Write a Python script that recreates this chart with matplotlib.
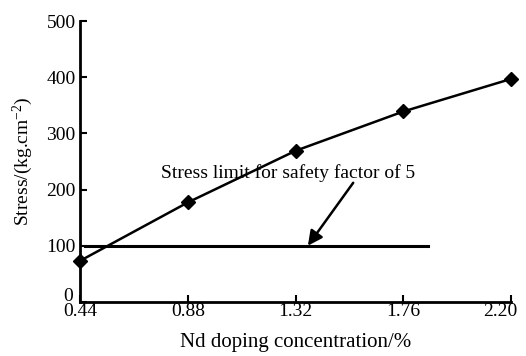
import matplotlib
matplotlib.use("Agg")
import matplotlib.pyplot as plt
import matplotlib.transforms as mtransforms

# Nd doping vs stress
nd = [0.44, 0.88, 1.32, 1.76, 2.20]
stress = [73, 177, 269, 339, 397]
limit_x = [0.46, 1.86]
limit_y = [100, 100]
xticks = [0.44, 0.88, 1.32, 1.76, 2.20]
xticklabels = ["0.44", "0.88", "1.32", "1.76", "2.20"]
yticks = [0, 100, 200, 300, 400, 500]

plt.rcParams["font.family"] = ["Liberation Serif", "DejaVu Serif"]
plt.rcParams["mathtext.default"] = "regular"

fig = plt.figure(figsize=(5.26, 3.56), dpi=100)
ax = fig.add_axes([0.152, 0.152, 0.82, 0.789])

ax.plot(nd, stress, color="black", lw=1.8, marker="D", ms=7, clip_on=False, zorder=3)
ax.plot(limit_x, limit_y, color="black", lw=2.2)

ax.annotate("", xy=(1.37, 100), xytext=(1.555, 212),
            arrowprops=dict(arrowstyle="-|>", color="black", lw=1.8,
                            mutation_scale=22, shrinkA=0, shrinkB=0))
ax.text(0.77, 230, "Stress limit for safety factor of 5", fontsize=14,
        va="center", ha="left")

ax.set_xlim(0.44, 2.20)
ax.set_ylim(0, 500)
ax.set_xticks(xticks)
ax.set_xticklabels(xticklabels)
ax.set_yticks(yticks)
ax.tick_params(direction="in", length=5, width=1.5, labelsize=14, pad=1)
ax.tick_params(axis="y", pad=3)
ax.spines["top"].set_visible(False)
ax.spines["right"].set_visible(False)
ax.spines["left"].set_linewidth(2)
ax.spines["bottom"].set_linewidth(2)

# last x label sits a bit left so it fits, "0" sits a bit higher
last = ax.get_xticklabels()[-1]
last.set_transform(last.get_transform() + mtransforms.ScaledTranslation(-8 / 72, 0, fig.dpi_scale_trans))
zero = ax.get_yticklabels()[0]
zero.set_transform(zero.get_transform() + mtransforms.ScaledTranslation(-2 / 72, 5 / 72, fig.dpi_scale_trans))

ax.set_xlabel("Nd doping concentration/%", fontsize=15, labelpad=9)
ax.set_ylabel("Stress/(kg.cm$^{-2}$)", fontsize=14, labelpad=8)

fig.savefig("out.png", dpi=100)
